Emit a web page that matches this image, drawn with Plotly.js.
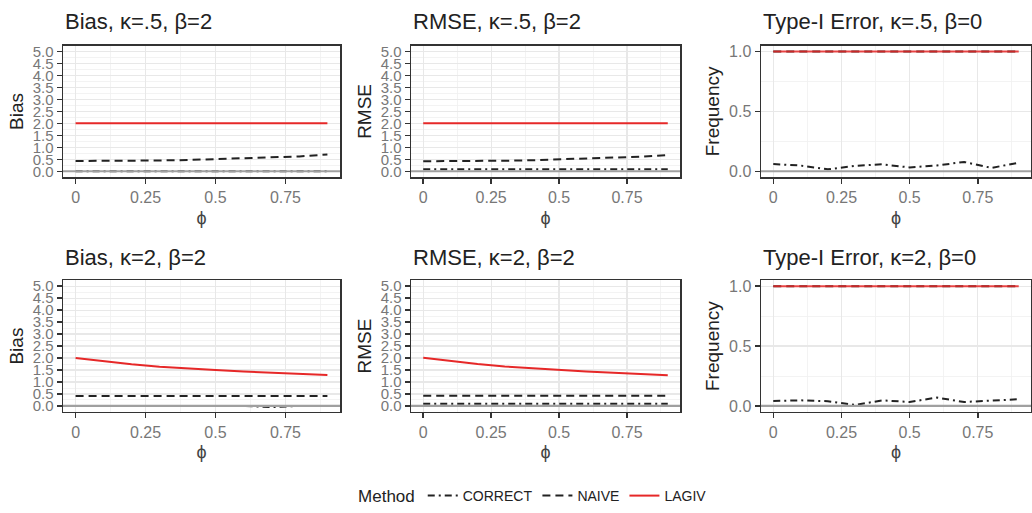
<!DOCTYPE html>
<html>
<head>
<meta charset="utf-8">
<script src="https://cdn.plot.ly/plotly-3.0.1.min.js"></script>
<style>html,body{margin:0;padding:0;background:#fff;}#chart{width:1032px;height:513px;}</style>
</head>
<body>
<div id="chart"></div>
<script>
// ---- data ----
const phi = [0, 0.1, 0.2, 0.3, 0.4, 0.5, 0.6, 0.7, 0.8, 0.9];
const methods = ["CORRECT", "NAIVE", "LAGIV"];
const panelTitles = ["Bias, κ=.5, β=2", "RMSE, κ=.5, β=2", "Type-I Error, κ=.5, β=0",
                     "Bias, κ=2, β=2", "RMSE, κ=2, β=2", "Type-I Error, κ=2, β=0"];
const yTitles = ["Bias", "RMSE", "Frequency", "Bias", "RMSE", "Frequency"];
const xTickVals = [0, 0.25, 0.5, 0.75];
const xTickText = ["0", "0.25", "0.5", "0.75"];
const errTickVals = [0, 0.5, 1.0];
const errTickText = ["0.0", "0.5", "1.0"];
const bigTickVals = [0, 0.5, 1, 1.5, 2, 2.5, 3, 3.5, 4, 4.5, 5];
const bigTickText = ["0.0", "0.5", "1.0", "1.5", "2.0", "2.5", "3.0", "3.5", "4.0", "4.5", "5.0"];

const biasK05Correct = [0.00, 0.00, 0.00, 0.00, 0.00, 0.00, 0.00, 0.00, 0.00, 0.00];
const biasK05Naive   = [0.43, 0.43, 0.44, 0.45, 0.47, 0.50, 0.53, 0.57, 0.62, 0.70];
const biasK05Lagiv   = [2.00, 2.00, 2.01, 2.00, 2.00, 2.00, 2.00, 2.00, 2.01, 2.00];

const rmseK05Correct = [0.08, 0.08, 0.08, 0.08, 0.08, 0.08, 0.08, 0.08, 0.08, 0.08];
const rmseK05Naive   = [0.42, 0.42, 0.43, 0.44, 0.46, 0.49, 0.52, 0.56, 0.61, 0.68];
const rmseK05Lagiv   = [2.00, 2.00, 2.01, 2.00, 2.00, 2.00, 2.00, 2.00, 2.01, 2.01];

const errK05Correct  = [0.060, 0.048, 0.016, 0.045, 0.058, 0.032, 0.048, 0.078, 0.028, 0.072];
const errK05Naive    = [1.00, 1.00, 1.00, 1.00, 1.00, 1.00, 1.00, 1.00, 1.00, 1.00];
const errK05Lagiv    = [1.00, 1.00, 1.00, 1.00, 1.00, 1.00, 1.00, 1.00, 1.00, 1.00];

const biasK2Correct  = [0.00, 0.00, 0.00, 0.00, 0.00, 0.00, 0.00, -0.05, 0.00, 0.00];
const biasK2Naive    = [0.42, 0.42, 0.42, 0.42, 0.42, 0.42, 0.42, 0.42, 0.42, 0.42];
const biasK2Lagiv    = [2.00, 1.86, 1.74, 1.64, 1.56, 1.50, 1.44, 1.39, 1.34, 1.29];

const rmseK2Correct  = [0.09, 0.09, 0.09, 0.09, 0.09, 0.09, 0.09, 0.09, 0.09, 0.09];
const rmseK2Naive    = [0.43, 0.43, 0.43, 0.43, 0.43, 0.43, 0.43, 0.43, 0.43, 0.43];
const rmseK2Lagiv    = [2.01, 1.87, 1.75, 1.65, 1.57, 1.50, 1.44, 1.39, 1.33, 1.28];

const errK2Correct   = [0.042, 0.047, 0.040, 0.008, 0.047, 0.033, 0.070, 0.033, 0.045, 0.056];
const errK2Naive     = [1.00, 1.00, 1.00, 1.00, 1.00, 1.00, 1.00, 1.00, 1.00, 1.00];
const errK2Lagiv     = [1.00, 1.00, 1.00, 1.00, 1.00, 1.00, 1.00, 1.00, 1.00, 1.00];

const panelSeries = [
  [biasK05Correct, biasK05Naive, biasK05Lagiv],
  [rmseK05Correct, rmseK05Naive, rmseK05Lagiv],
  [errK05Correct, errK05Naive, errK05Lagiv],
  [biasK2Correct, biasK2Naive, biasK2Lagiv],
  [rmseK2Correct, rmseK2Naive, rmseK2Lagiv],
  [errK2Correct, errK2Naive, errK2Lagiv]
];
const isErrPanel = [false, false, true, false, false, true];

// ---- layout / styling ----
const W = 1032, H = 513;
const colDom = [[63, 340], [411, 680], [761, 1031]];
const rowDom = [[46, 179], [283, 416]];
const lineStyles = [
  {color: "#222222", width: 2, dash: "7px,4px,2px,4px"},
  {color: "#222222", width: 2, dash: "8px,5px"},
  {color: "#e62828", width: 2, dash: "solid"}
];
const font = "Liberation Sans, Arial, sans-serif";

const traces = [];
const layout = {
  width: W, height: H,
  margin: {l: 0, r: 0, t: 0, b: 0},
  paper_bgcolor: "#ffffff", plot_bgcolor: "#ffffff",
  font: {family: font, color: "#222"},
  showlegend: true,
  legend: {
    orientation: "h", x: 0.345, xanchor: "left", y: 0.022, yanchor: "middle",
    title: {text: "Method", font: {size: 17, color: "#222"}, side: "left"},
    font: {size: 14, color: "#222"},
    bgcolor: "rgba(0,0,0,0)", itemwidth: 30, tracegroupgap: 0
  },
  annotations: [], shapes: []
};

for (let p = 0; p < 6; p++) {
  const row = Math.floor(p / 3), col = p % 3;
  const xn = p === 0 ? "x" : "x" + (p + 1);
  const yn = p === 0 ? "y" : "y" + (p + 1);
  const xk = p === 0 ? "xaxis" : "xaxis" + (p + 1);
  const yk = p === 0 ? "yaxis" : "yaxis" + (p + 1);
  const err = isErrPanel[p];

  for (let m = 0; m < 3; m++) {
    traces.push({
      type: "scatter", mode: "lines", x: phi, y: panelSeries[p][m],
      xaxis: xn, yaxis: yn, name: methods[m], legendgroup: methods[m],
      showlegend: p === 0, line: lineStyles[m],
      opacity: (m === 2 && err) ? 0.85 : 1, hoverinfo: "skip"
    });
  }

  layout[xk] = {
    domain: [colDom[col][0] / W, colDom[col][1] / W],
    anchor: yn, range: [-0.045, 0.945],
    tickmode: "array", tickvals: xTickVals, ticktext: xTickText,
    ticks: "outside", ticklen: 5, tickwidth: 1.5, tickcolor: "#333",
    tickfont: {size: 16, color: "#777"},
    showline: true, mirror: true, linecolor: "#333", linewidth: 1.5,
    showgrid: true, gridcolor: "#e8e8e8", gridwidth: 1.3,
    minor: {dtick: 0.125, tick0: 0, showgrid: true, gridcolor: "#f0f0f0", gridwidth: 0.8, ticks: ""},
    zeroline: false,
    title: {text: "ϕ", font: {size: 18, color: "#444"}, standoff: 6}
  };
  layout[yk] = {
    domain: [1 - rowDom[row][1] / H, 1 - rowDom[row][0] / H],
    anchor: xn, range: err ? [-0.05, 1.05] : [-0.25, 5.25],
    tickmode: "array",
    tickvals: err ? errTickVals : bigTickVals,
    ticktext: err ? errTickText : bigTickText,
    ticks: "outside", ticklen: 5, tickwidth: 1.5, tickcolor: "#333",
    tickfont: {size: err ? 16 : 15, color: "#777"},
    showline: true, mirror: true, linecolor: "#333", linewidth: 1.5,
    showgrid: true, gridcolor: "#e8e8e8", gridwidth: 1.3,
    minor: {dtick: 0.25, tick0: 0, showgrid: true, gridcolor: "#f0f0f0", gridwidth: 0.8, ticks: ""},
    zeroline: false,
    title: {text: yTitles[p], font: {size: 19, color: "#222"}, standoff: 4}
  };

  layout.shapes.push({
    type: "line", xref: xn + " domain", yref: yn,
    x0: 0, x1: 1, y0: 0, y1: 0, layer: "above",
    line: {color: "#a0a0a0", width: 2.2}
  });

  layout.annotations.push({
    text: panelTitles[p], xref: "paper", yref: "paper",
    x: colDom[col][0] / W, xanchor: "left",
    y: 1 - (row === 0 ? 22 : 260) / H, yanchor: "middle",
    showarrow: false, font: {size: 22, color: "#222"}
  });
}

Plotly.newPlot("chart", traces, layout, {displayModeBar: false, staticPlot: true});
</script>
</body>
</html>
